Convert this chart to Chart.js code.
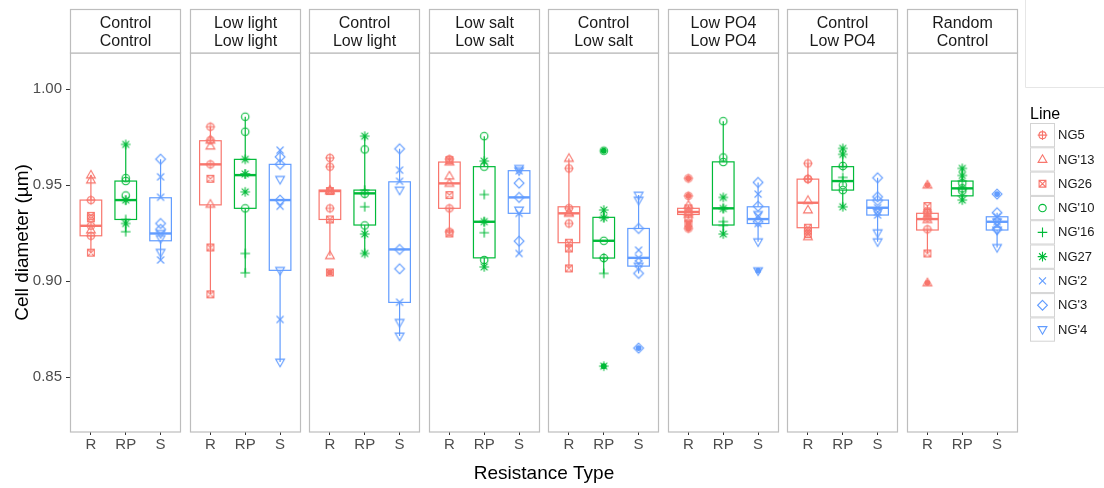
<!DOCTYPE html>
<html>
<head>
<meta charset="utf-8">
<script src="https://cdn.jsdelivr.net/npm/chart.js@4.4.1/dist/chart.umd.min.js"></script>
<style>
  html, body { margin: 0; padding: 0; background: #ffffff; }
  #wrap { width: 1104px; height: 488px; position: relative; }
</style>
</head>
<body>
<div id="wrap"><canvas id="chart" width="1104" height="488"></canvas></div>
<script>
// ---- facets, categories and ticks ----
const facetTop    = ['Control', 'Low light', 'Control',   'Low salt', 'Control',  'Low PO4', 'Control', 'Random'];
const facetBottom = ['Control', 'Low light', 'Low light', 'Low salt', 'Low salt', 'Low PO4', 'Low PO4', 'Control'];
const resistanceTypes = ['R', 'RP', 'S'];
const yTicks = [0.85, 0.90, 0.95, 1.00];

const lineNames = ['NG5', "NG'13", 'NG26', "NG'10", "NG'16", 'NG27', "NG'2", "NG'3", "NG'4"];
const lineType  = [0, 0, 0, 1, 1, 1, 2, 2, 2];   // index into resistanceTypes

// ---- box statistics, one entry per facet x resistance type (R, RP, S) ----
const boxLow = [
  0.9148, 0.9257, 0.9110,   0.8931, 0.9043, 0.8578,   0.9132, 0.9144, 0.8714,   0.9248, 0.9074, 0.9144,
  0.9066, 0.9040, 0.9040,   0.9327, 0.9245, 0.9205,   0.9231, 0.9387, 0.9205,   0.9144, 0.9422, 0.9175];
const boxQ1 = [
  0.9236, 0.9321, 0.9210,   0.9397, 0.9379, 0.9056,   0.9321, 0.9292, 0.8889,   0.9379, 0.9121, 0.9353,
  0.9200, 0.9120, 0.9078,   0.9347, 0.9292, 0.9300,   0.9278, 0.9474, 0.9344,   0.9266, 0.9444, 0.9266];
const boxMedian = [
  0.9288, 0.9422, 0.9248,   0.9608, 0.9552, 0.9422,   0.9469, 0.9457, 0.9165,   0.9509, 0.9309, 0.9436,
  0.9353, 0.9210, 0.9121,   0.9360, 0.9379, 0.9323,   0.9408, 0.9521, 0.9382,   0.9323, 0.9483, 0.9309];
const boxQ3 = [
  0.9422, 0.9521, 0.9434,   0.9731, 0.9634, 0.9608,   0.9474, 0.9474, 0.9517,   0.9620, 0.9596, 0.9575,
  0.9387, 0.9332, 0.9274,   0.9379, 0.9621, 0.9387,   0.9531, 0.9596, 0.9422,   0.9353, 0.9521, 0.9335];
const boxHigh = [
  0.9552, 0.9712, 0.9635,   0.9804, 0.9856, 0.9682,   0.9642, 0.9755, 0.9689,   0.9635, 0.9755, 0.9587,
  0.9639, 0.9370, 0.9448,   0.9395, 0.9833, 0.9514,   0.9613, 0.9691, 0.9538,   0.9391, 0.9587, 0.9356];
const boxOutliers = [
  [], [], [],   [], [], [],   [0.9045], [], [],   [], [], [],
  [], [0.9679, 0.8557], [0.8651],   [0.9535, 0.9444, 0.9300, 0.9274], [], [0.9054],
  [], [], [],   [0.9500, 0.8991], [], [0.9453]];

// ---- measured cell diameters per line, one list per facet ----
const ptsNG5  = [[0.9422, 0.9288, 0.9236], [0.9804, 0.9734, 0.9608], [0.9642, 0.9596, 0.9379], [0.9635, 0.9379, 0.9257],
                 [0.9587, 0.9380, 0.9300], [0.9535, 0.9444, 0.9274, 0.9360], [0.9613, 0.9533, 0.9531], [0.9360, 0.9330, 0.9270]];
const ptsNG13 = [[0.9552, 0.9526, 0.9266], [0.9703, 0.9400, 0.9734], [0.9474, 0.9469, 0.9132], [0.9547, 0.9620, 0.9509],
                 [0.9639, 0.9353, 0.9358], [0.9395, 0.9347, 0.9360], [0.9420, 0.9370, 0.9231], [0.9500, 0.9320, 0.8991]];
const ptsNG26 = [[0.9340, 0.9327, 0.9148], [0.9533, 0.9175, 0.8931], [0.9469, 0.9321, 0.9045], [0.9630, 0.9448, 0.9248],
                 [0.9200, 0.9170, 0.9066], [0.9379, 0.9327, 0.9300], [0.9278, 0.9262, 0.9245], [0.9391, 0.9353, 0.9144]];
const ptsNG10 = [[0.9536, 0.9446, 0.9521], [0.9856, 0.9778, 0.9379], [0.9686, 0.9455, 0.9290], [0.9755, 0.9596, 0.9110],
                 [0.9679, 0.9210, 0.9120], [0.9833, 0.9644, 0.9620], [0.9600, 0.9500, 0.9474], [0.9510, 0.9470, 0.9483]];
const ptsNG16 = [[0.9422, 0.9257, 0.9321], [0.9558, 0.9144, 0.9043], [0.9387, 0.9457, 0.9474], [0.9451, 0.9252, 0.9309],
                 [0.9332, 0.9121, 0.9040], [0.9310, 0.9290, 0.9379], [0.9540, 0.9521, 0.9596], [0.9480, 0.9444, 0.9521]];
const ptsNG27 = [[0.9712, 0.9300, 0.9422], [0.9634, 0.9558, 0.9465], [0.9755, 0.9245, 0.9144], [0.9625, 0.9310, 0.9074],
                 [0.9370, 0.9330, 0.8557], [0.9436, 0.9378, 0.9245], [0.9691, 0.9660, 0.9387], [0.9587, 0.9550, 0.9422]];
const ptsNG2  = [[0.9543, 0.9437, 0.9110], [0.9682, 0.9390, 0.8800], [0.9578, 0.9520, 0.8890], [0.9353, 0.9144, 0.9575],
                 [0.9161, 0.9121, 0.9090], [0.9453, 0.9340, 0.9300], [0.9382, 0.9360, 0.9344], [0.9310, 0.9290, 0.9335]];
const ptsNG3  = [[0.9635, 0.9300, 0.9270], [0.9647, 0.9608, 0.9422], [0.9689, 0.9165, 0.9064], [0.9510, 0.9436, 0.9208],
                 [0.9274, 0.9040, 0.8651], [0.9514, 0.9390, 0.9310], [0.9538, 0.9439, 0.9420], [0.9453, 0.9356, 0.9270]];
const ptsNG4  = [[0.9222, 0.9150, 0.9248], [0.9530, 0.9056, 0.8578], [0.9474, 0.8785, 0.8714], [0.9587, 0.9370, 0.9575],
                 [0.9448, 0.9422, 0.9078], [0.9347, 0.9205, 0.9054], [0.9360, 0.9252, 0.9205], [0.9309, 0.9266, 0.9175]];

const lineValues = [ptsNG5, ptsNG13, ptsNG26, ptsNG10, ptsNG16, ptsNG27, ptsNG2, ptsNG3, ptsNG4];
const lineShapes = ['circlePlus', 'triangle', 'squareCross', 'circle', 'plus', 'asterisk', 'cross', 'diamond', 'triangleDown'];
const typeColors = ['#F8766D', '#00BA38', '#619CFF'];

// ---- facet geometry in x-scale units ----
const PANEL_SPAN = 3.2;   // three categories with 0.6 expansion on each side
const PANEL_GAP = 0.23;
const PITCH = PANEL_SPAN + PANEL_GAP;
const NPANEL = facetTop.length;
const XMAX = NPANEL * PANEL_SPAN + (NPANEL - 1) * PANEL_GAP;
const BOX_HALF = 0.31;
const catX = (p, t) => p * PITCH + 0.6 + t;

const FONT = "'Liberation Sans', Arial, Helvetica, sans-serif";
Chart.defaults.font.family = FONT;

// ---- glyphs for each line ----
function drawGlyph(ctx, shape, x, y, color) {
  ctx.save();
  ctx.strokeStyle = color;
  ctx.lineWidth = 1.1;
  ctx.beginPath();
  switch (shape) {
    case 'circlePlus':
      ctx.arc(x, y, 3.5, 0, Math.PI * 2);
      ctx.moveTo(x - 4.8, y); ctx.lineTo(x + 4.8, y);
      ctx.moveTo(x, y - 4.8); ctx.lineTo(x, y + 4.8);
      break;
    case 'triangle':
      ctx.moveTo(x, y - 4.7); ctx.lineTo(x + 4.4, y + 2.9); ctx.lineTo(x - 4.4, y + 2.9); ctx.closePath();
      break;
    case 'triangleDown':
      ctx.moveTo(x, y + 4.7); ctx.lineTo(x + 4.4, y - 2.9); ctx.lineTo(x - 4.4, y - 2.9); ctx.closePath();
      break;
    case 'squareCross':
      ctx.rect(x - 3.4, y - 3.4, 6.8, 6.8);
      ctx.moveTo(x - 3.4, y - 3.4); ctx.lineTo(x + 3.4, y + 3.4);
      ctx.moveTo(x + 3.4, y - 3.4); ctx.lineTo(x - 3.4, y + 3.4);
      break;
    case 'circle':
      ctx.arc(x, y, 3.7, 0, Math.PI * 2);
      break;
    case 'plus':
      ctx.moveTo(x - 4.8, y); ctx.lineTo(x + 4.8, y);
      ctx.moveTo(x, y - 4.8); ctx.lineTo(x, y + 4.8);
      break;
    case 'asterisk':
      ctx.moveTo(x - 4.8, y); ctx.lineTo(x + 4.8, y);
      ctx.moveTo(x, y - 4.8); ctx.lineTo(x, y + 4.8);
      ctx.moveTo(x - 3.4, y - 3.4); ctx.lineTo(x + 3.4, y + 3.4);
      ctx.moveTo(x + 3.4, y - 3.4); ctx.lineTo(x - 3.4, y + 3.4);
      break;
    case 'cross':
      ctx.moveTo(x - 3.5, y - 3.5); ctx.lineTo(x + 3.5, y + 3.5);
      ctx.moveTo(x + 3.5, y - 3.5); ctx.lineTo(x - 3.5, y + 3.5);
      break;
    case 'diamond':
      ctx.moveTo(x, y - 4.9); ctx.lineTo(x + 4.9, y); ctx.lineTo(x, y + 4.9); ctx.lineTo(x - 4.9, y); ctx.closePath();
      break;
  }
  ctx.stroke();
  ctx.restore();
}

function glyphCanvas(shape, color) {
  const c = document.createElement('canvas');
  c.width = 16; c.height = 16;
  drawGlyph(c.getContext('2d'), shape, 8, 8, color);
  return c;
}

// ---- datasets: one scatter per line, plus the boxplot outlier dots ----
const datasets = lineNames.map((name, i) => {
  const t = lineType[i];
  const data = [];
  lineValues[i].forEach((vals, p) => vals.forEach(v => data.push({ x: catX(p, t), y: v })));
  return {
    label: name,
    data,
    pointStyle: glyphCanvas(lineShapes[i], typeColors[t]),
    pointRadius: 4,
    pointHoverRadius: 4
  };
});

const outlierData = [];
const outlierColors = [];
boxOutliers.forEach((vals, k) => {
  const p = Math.floor(k / 3), t = k % 3;
  vals.forEach(v => { outlierData.push({ x: catX(p, t), y: v }); outlierColors.push(typeColors[t]); });
});
datasets.push({
  label: 'outliers',
  data: outlierData,
  pointStyle: 'circle',
  pointRadius: 2.9,
  pointBorderWidth: 0,
  pointBackgroundColor: outlierColors,
  pointBorderColor: outlierColors
});

// ---- panels, boxes, strips and legend ----
const facetPlugin = {
  id: 'facets',
  beforeDatasetsDraw(chart) {
    const { ctx, scales: { x, y } } = chart;
    ctx.save();
    for (let k = 0; k < boxMedian.length; k++) {
      const p = Math.floor(k / 3), t = k % 3;
      const c = catX(p, t);
      const xl = x.getPixelForValue(c - BOX_HALF), xr = x.getPixelForValue(c + BOX_HALF), xc = x.getPixelForValue(c);
      const yq1 = y.getPixelForValue(boxQ1[k]), yq3 = y.getPixelForValue(boxQ3[k]);
      ctx.strokeStyle = typeColors[t];
      ctx.lineWidth = 1.2;
      ctx.beginPath();
      ctx.moveTo(xc, yq3); ctx.lineTo(xc, y.getPixelForValue(boxHigh[k]));
      ctx.moveTo(xc, yq1); ctx.lineTo(xc, y.getPixelForValue(boxLow[k]));
      ctx.stroke();
      ctx.fillStyle = '#ffffff';
      ctx.fillRect(xl, yq3, xr - xl, yq1 - yq3);
      ctx.strokeRect(xl, yq3, xr - xl, yq1 - yq3);
      ctx.lineWidth = 2.4;
      ctx.beginPath();
      const ym = y.getPixelForValue(boxMedian[k]);
      ctx.moveTo(xl, ym); ctx.lineTo(xr, ym);
      ctx.stroke();
    }
    ctx.restore();
  },
  afterDraw(chart) {
    const { ctx, chartArea: a, scales: { x } } = chart;
    ctx.save();
    ctx.strokeStyle = '#BDBDBD';
    ctx.lineWidth = 1.2;
    const stripTop = 9.5;
    for (let p = 0; p < NPANEL; p++) {
      const l = Math.round(x.getPixelForValue(p * PITCH)) + 0.5;
      const r = Math.round(x.getPixelForValue(p * PITCH + PANEL_SPAN)) - 0.5;
      ctx.strokeRect(l, a.top, r - l, a.bottom - a.top);
      ctx.fillStyle = '#ffffff';
      ctx.fillRect(l, stripTop, r - l, a.top - stripTop);
      ctx.strokeRect(l, stripTop, r - l, a.top - stripTop);
      ctx.fillStyle = '#1A1A1A';
      ctx.font = '16px ' + FONT;
      ctx.textAlign = 'center';
      ctx.textBaseline = 'middle';
      ctx.fillText(facetTop[p], (l + r) / 2, 23.5);
      ctx.fillText(facetBottom[p], (l + r) / 2, 41.5);
    }
    // legend
    ctx.fillStyle = '#000000';
    ctx.font = '16px ' + FONT;
    ctx.textAlign = 'left';
    ctx.textBaseline = 'middle';
    ctx.fillText('Line', 1030, 115);
    const keyTop = 123.5, keyH = 24.3;
    for (let i = 0; i < lineNames.length; i++) {
      const ty = keyTop + i * keyH;
      ctx.fillStyle = '#ffffff';
      ctx.strokeStyle = '#D3D3D3';
      ctx.lineWidth = 1;
      ctx.fillRect(1030.5, ty, 24, keyH - 1);
      ctx.strokeRect(1030.5, ty, 24, keyH - 1);
      drawGlyph(ctx, lineShapes[i], 1042.5, ty + keyH / 2 - 0.5, typeColors[lineType[i]]);
      ctx.fillStyle = '#1A1A1A';
      ctx.font = '13px ' + FONT;
      ctx.fillText(lineNames[i], 1058, ty + keyH / 2);
    }
    // light frame in the top right corner
    ctx.strokeStyle = '#E6E6E6';
    ctx.lineWidth = 1;
    ctx.beginPath();
    ctx.moveTo(1025.5, 0); ctx.lineTo(1025.5, 87.5); ctx.lineTo(1104, 87.5);
    ctx.stroke();
    ctx.restore();
  }
};

const xTickValues = [];
for (let p = 0; p < NPANEL; p++) for (let t = 0; t < 3; t++) xTickValues.push(catX(p, t));

new Chart(document.getElementById('chart'), {
  type: 'scatter',
  data: { datasets },
  plugins: [facetPlugin],
  options: {
    responsive: false,
    animation: false,
    devicePixelRatio: 1,
    layout: { padding: { top: 53, right: 86, left: 0, bottom: 0 } },
    plugins: { legend: { display: false }, tooltip: { enabled: false } },
    events: [],
    scales: {
      x: {
        type: 'linear',
        min: 0,
        max: XMAX,
        afterBuildTicks: s => { s.ticks = xTickValues.map(v => ({ value: v })); },
        afterFit: s => { s.height = 56; },
        grid: { drawOnChartArea: false, tickLength: 3, color: '#333333', tickColor: '#333333', lineWidth: 1 },
        border: { display: false },
        ticks: {
          autoSkip: false, maxRotation: 0, padding: 1,
          color: '#4D4D4D', font: { size: 15 },
          callback: (v, i) => resistanceTypes[i % 3]
        },
        title: { display: true, text: 'Resistance Type', color: '#000000', font: { size: 19 }, padding: { top: 0, bottom: 3 } }
      },
      y: {
        type: 'linear',
        min: 0.8214,
        max: 1.0188,
        afterBuildTicks: s => { s.ticks = yTicks.map(v => ({ value: v })); },
        afterFit: s => { s.width = 70; },
        grid: { drawOnChartArea: false, tickLength: 4, color: '#333333', tickColor: '#333333', lineWidth: 1 },
        border: { display: false },
        ticks: { padding: 4, color: '#4D4D4D', font: { size: 15 }, callback: v => v.toFixed(2) },
        title: { display: true, text: 'Cell diameter (µm)', color: '#000000', font: { size: 19 }, padding: { top: 11, bottom: 0 } }
      }
    }
  }
});
</script>
</body>
</html>
